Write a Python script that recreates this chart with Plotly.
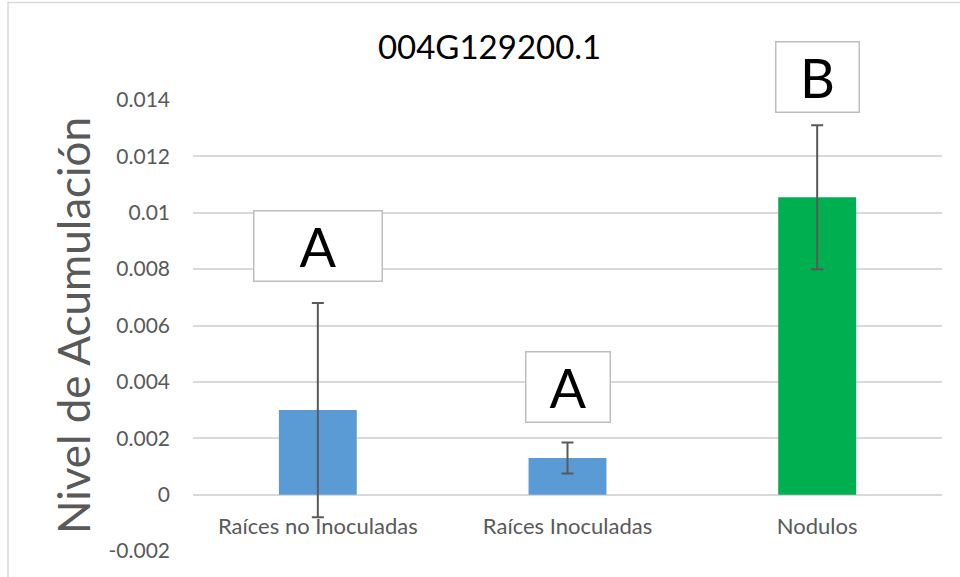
import plotly.graph_objects as go

categories = ["Raíces no Inoculadas", "Raíces Inoculadas", "Nodulos"]
values = [0.0030, 0.0013, 0.01055]
errors = [0.0038, 0.00055, 0.00255]
bar_colors = ["#5B9BD5", "#5B9BD5", "#00B050"]
letters = ["A", "A", "B"]
letter_gap_px = [21, 19, 12]
letter_box_w = [125, 81, 80]
tick_vals = [-0.002, 0, 0.002, 0.004, 0.006, 0.008, 0.01, 0.012, 0.014]
tick_text = ["-0.002", "0", "0.002", "0.004", "0.006", "0.008", "0.01", "0.012", "0.014"]

FONT = "Lato, 'Liberation Sans', sans-serif"

fig = go.Figure()
fig.add_trace(go.Bar(
    x=categories, y=values,
    marker=dict(color=bar_colors, line=dict(width=0)),
    error_y=dict(type="data", array=errors, visible=True,
                 color="#595959", thickness=2, width=6),
    showlegend=False,
))

for c, l, v, e, g, w in zip(categories, letters, values, errors, letter_gap_px, letter_box_w):
    fig.add_annotation(
        x=c, y=v + e, xref="x", yref="y", text=l, showarrow=False,
        font=dict(family=FONT, size=54, color="#000000"),
        bgcolor="#FFFFFF", bordercolor="#BFBFBF", borderwidth=1.5,
        width=w, height=67, borderpad=1, yanchor="bottom", xanchor="center",
        yshift=g,
    )

fig.add_shape(type="rect", xref="paper", yref="paper",
              x0=-0.247, x1=1.2, y0=-0.3, y1=1.2163,
              line=dict(color="#D9D9D9", width=1.5), fillcolor="rgba(0,0,0,0)",
              layer="below")

fig.update_layout(
    width=960, height=577,
    margin=dict(l=193, r=18, t=100, b=26, autoexpand=False),
    paper_bgcolor="#FFFFFF", plot_bgcolor="#FFFFFF",
    bargap=0.688,
    title=dict(text="004G129200.1", x=0.51, xref="container", xanchor="center",
               y=0.918, yref="container", yanchor="middle",
               font=dict(family=FONT, size=33, color="#000000")),
    xaxis=dict(
        anchor="free", position=0.125, showgrid=False, showline=False,
        zeroline=False, ticks="", ticklabelstandoff=16, automargin=False,
        tickfont=dict(family=FONT, size=22, color="#595959"),
    ),
    yaxis=dict(
        range=[-0.002, 0.014], tickvals=tick_vals, ticktext=tick_text,
        showgrid=True, gridcolor="#D9D9D9", gridwidth=1.5, automargin=False,
        zeroline=False, showline=False, ticks="", ticklabelstandoff=22,
        tickfont=dict(family=FONT, size=21, color="#595959"),
        title=dict(text="Nivel de Acumulación", standoff=4,
                   font=dict(family=FONT, size=44, color="#595959")),
    ),
)

fig.write_html("out.html", config={"displayModeBar": False},
               post_script="document.body.style.margin='0px';")
